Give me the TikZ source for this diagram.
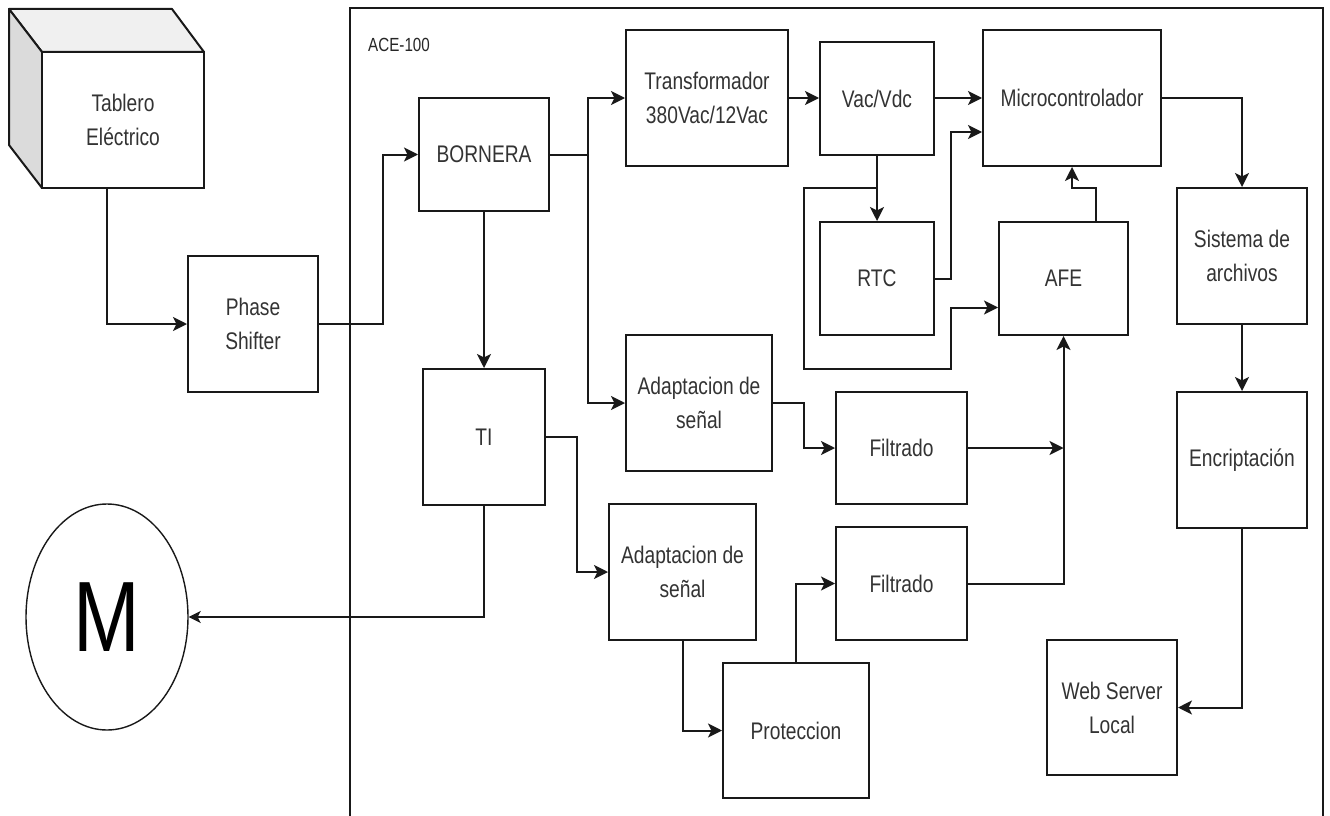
\documentclass[tikz,border=0pt]{standalone}
\usepackage{fontspec}
\setmainfont{Liberation Sans}[FakeStretch=0.8]
\usetikzlibrary{arrows.meta,shapes.geometric}
\begin{document}
\begin{tikzpicture}[x=1pt,y=-1pt,
  box/.style={draw=black!90, line width=2pt, fill=white, inner sep=0pt, align=center,
    text=black!80, font=\fontsize{24}{34}\selectfont},
  sz/.style 2 args={minimum width=#1pt, minimum height=#2pt},
  conn/.style={line width=2pt, draw=black!90},
  arr/.style={conn, -{Stealth[length=14pt,width=14pt,inset=3.5pt]}},
  arrM/.style={line width=1.4pt, draw=black!90, -{Stealth[length=12pt,width=12pt,inset=3pt]}},
]
\fill[white] (0,0) rectangle (1330,816);
\useasboundingbox (0,0) rectangle (1330,816);

% ACE-100 frame
\draw[conn] (350,816) -- (350,8) -- (1323,8) -- (1323,816);
\node[anchor=west, inner sep=0pt, text=black!85, font=\fontsize{19}{22}\selectfont] (ace) at (368,45) {ACE-100};

% cube: Tablero Electrico
\filldraw[conn, fill=black!6, line join=round] (9,9) -- (172,9) -- (204,52) -- (42,52) -- cycle;
\filldraw[conn, fill=black!14, line join=round] (9,9) -- (42,52) -- (42,188) -- (9,145) -- cycle;
\node[box, sz={162}{136}] (tab) at (123,120) {Tablero\\Eléctrico};
\coordinate (tabout) at (107,188);

% boxes
\node[box, sz={130}{136}] (ps)  at (253,324)   {Phase\\Shifter};
\node[box, sz={130}{113}] (bor) at (484,154.5) {BORNERA};
\node[box, sz={122}{136}] (ti)  at (484,437)   {TI};
\node[box, sz={162}{136}] (tra) at (707,98)    {Transformador\\380Vac/12Vac};
\node[box, sz={114}{113}] (vac) at (877,98.5)  {Vac/Vdc};
\node[box, sz={114}{113}] (rtc) at (877,278.5) {RTC};
\node[box, sz={129}{113}] (afe) at (1063.5,278.5) {AFE};
\node[box, sz={178}{136}] (mc)  at (1072,98)   {Microcontrolador};
\node[box, sz={130}{136}] (sis) at (1242,256)  {Sistema de\\archivos};
\node[box, sz={130}{136}] (enc) at (1242,460)  {Encriptación};
\node[box, sz={130}{135}] (web) at (1112,707.5) {Web Server\\Local};
\node[box, sz={146}{136}] (ad1) at (699,403)   {Adaptacion de\\señal};
\node[box, sz={147}{136}] (ad2) at (682.5,572) {Adaptacion de\\señal};
\node[box, sz={146}{135}] (pro) at (796,730.5) {Proteccion};
\node[box, sz={131}{112}] (fi1) at (901.5,448) {Filtrado};
\node[box, sz={131}{113}] (fi2) at (901.5,583.5) {Filtrado};
\node[draw=black!90, ellipse, line width=1.4pt, sz={162}{226}, inner sep=0pt,
  font=\fontsize{100}{100}\selectfont] (m) at (107,617) {M};

% connectors
\draw[arr] (tabout) |- (ps.west);
\draw[arr] (ps.east) -- (383,324) |- (bor.west);
\coordinate (bsplit) at (588,155);
\draw[conn] (bor.east |- bsplit) -- (bsplit);
\draw[arr] (bsplit) |- (tra.west);
\draw[arr] (bsplit) |- (ad1.west);
\draw[arr] (bor.south) -- (ti.north);
\draw[arr] (ti.east) -- (577,437) |- (ad2.west);
\draw[arrM] (ti.south) |- (m.east);
\draw[arr] (tra.east) -- (vac.west |- tra.east);
\draw[arr] (vac.east |- mc.west) -- (mc.west);
\draw[arr] (vac.south) -- (rtc.north);
\coordinate (vsplit) at (877,188);
\draw[arr] (vsplit) -- (804,188) -- (804,369) -- (951,369) |- ([yshift=-29pt]afe.west);
\draw[arr] (rtc.east) -- (951,278.5) |- ([yshift=-34pt]mc.west);
\draw[arr] ([xshift=32.5pt]afe.north) |- (1072,188) -- (mc.south);
\draw[arr] (fi1.east) -- (afe.south |- fi1.east);
\draw[arr] (fi2.east) -| (afe.south);
\draw[arr] (ad1.east) -- (804,403) |- (fi1.west);
\draw[arr] (ad2.south) |- (pro.west);
\draw[arr] (pro.north) |- (fi2.west);
\draw[arr] (mc.east) -| (sis.north);
\draw[arr] (sis.south) -- (enc.north);
\draw[arr] (enc.south) |- (web.east);
\end{tikzpicture}
\end{document}
